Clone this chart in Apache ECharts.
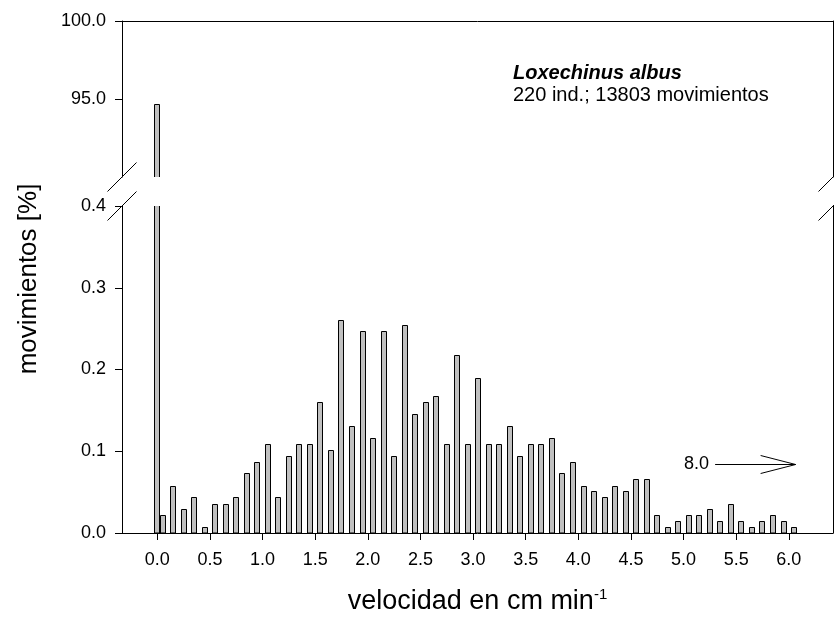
<!DOCTYPE html>
<html>
<head>
<meta charset="utf-8">
<script src="https://cdn.jsdelivr.net/npm/echarts@6/dist/echarts.min.js"></script>
<style>html,body{margin:0;padding:0;background:#fff}#c{width:834px;height:622px}</style>
</head>
<body>
<div id="c"></div>
<script>
// ---- data ----
const velocity = [0.00,0.05,0.15,0.25,0.35,0.45,0.55,0.65,0.75,0.85,0.95,
  1.05,1.15,1.25,1.35,1.45,1.55,1.65,1.75,1.85,1.95,
  2.05,2.15,2.25,2.35,2.45,2.55,2.65,2.75,2.85,2.95,
  3.05,3.15,3.25,3.35,3.45,3.55,3.65,3.75,3.85,3.95,
  4.05,4.15,4.25,4.35,4.45,4.55,4.65,4.75,4.85,4.95,
  5.05,5.15,5.25,5.35,5.45,5.55,5.65,5.75,5.85,5.95,6.05];
const percent = [94.7,0.022,0.058,0.029,0.044,0.007,0.036,0.036,0.044,0.073,0.087,
  0.109,0.044,0.094,0.109,0.109,0.160,0.101,0.260,0.131,0.247,
  0.116,0.247,0.094,0.254,0.145,0.160,0.167,0.109,0.218,0.109,
  0.189,0.109,0.109,0.131,0.094,0.109,0.109,0.116,0.073,0.087,
  0.058,0.051,0.044,0.058,0.051,0.066,0.066,0.022,0.007,0.015,
  0.022,0.022,0.029,0.015,0.036,0.015,0.007,0.015,0.022,0.015,0.007];
const xTicks = [0.0,0.5,1.0,1.5,2.0,2.5,3.0,3.5,4.0,4.5,5.0,5.5,6.0];
const lowerTicks = [0.0,0.1,0.2,0.3,0.4];
const upperTicks = [95.0,100.0];
const outlierLabel = '8.0';
const outlierArrow = [[5.30, 6.065, 0.084]]; // [x from, x to, y]
const speciesName = 'Loxechinus albus';
const sampleNote = '220 ind.; 13803 movimientos';
const xTitleMain = 'velocidad en cm min';
const xTitleSup = '-1';
const yTitle = 'movimientos [%]';

// ---- chart ----
const FONT = "'Liberation Sans', Arial, Helvetica, sans-serif";
const X_MIN = -0.335, X_MAX = 6.42;
const UP_MIN = 90, UP_MAX = 100, LO_MIN = 0, LO_MAX = 0.4;
const chart = echarts.init(document.getElementById('c'));
const barData = velocity.map((v, i) => [v, percent[i]]);

function renderBar(params, api) {
  const x = api.value(0), v = api.value(1);
  const p0 = api.coord([x, 0]);
  const p1 = api.coord([x, v]);
  const left = Math.round(p1[0] - 3) + 0.5;
  const top = Math.round(p1[1]) + 0.5;
  return {type: 'rect', shape: {x: left, y: top, width: 5, height: p0[1] - top},
    style: {fill: '#c0c0c0', stroke: '#000', lineWidth: 1}};
}
function renderArrow(params, api) {
  const a = api.coord([api.value(0), api.value(2)]);
  const b = api.coord([api.value(1), api.value(2)]);
  const y = Math.round(a[1]) + 0.5;
  return {type: 'group', children: [
    {type: 'line', shape: {x1: a[0], y1: y, x2: b[0], y2: y}, style: {stroke: '#000', lineWidth: 1}},
    {type: 'polyline', shape: {points: [[b[0] - 35, y - 9], [b[0], y], [b[0] - 35, y + 9]]},
      style: {stroke: '#000', fill: null, lineWidth: 1}},
    {type: 'text', style: {text: outlierLabel, x: a[0] - 6, y: y, align: 'right', verticalAlign: 'middle',
      fontSize: 18, fontFamily: FONT, fill: '#000'}}
  ]};
}

const lineStyle = {color: '#000', width: 1};
const labelStyle = {color: '#000', fontSize: 18, fontFamily: FONT};

const option = {
  animation: false,
  backgroundColor: '#fff',
  grid: [
    {left: 122, right: 1, top: 21, height: 156, outerBoundsMode: 'none', containLabel: false},
    {left: 122, right: 1, top: 206, bottom: 89, outerBoundsMode: 'none', containLabel: false}
  ],
  xAxis: [
    {gridIndex: 0, type: 'value', min: X_MIN, max: X_MAX, position: 'top',
      axisLine: {show: true, onZero: false, lineStyle: lineStyle}, axisTick: {show: false}, axisLabel: {show: false}, splitLine: {show: false}},
    {gridIndex: 1, type: 'value', min: X_MIN, max: X_MAX, position: 'bottom',
      axisLine: {show: true, onZero: false, lineStyle: lineStyle},
      axisTick: {show: true, customValues: xTicks, length: 7, lineStyle: lineStyle},
      axisLabel: Object.assign({customValues: xTicks, margin: 18, formatter: v => (+v).toFixed(1)}, labelStyle),
      splitLine: {show: false},
      name: '{m|' + xTitleMain + '}{s|' + xTitleSup + '}',
      nameLocation: 'middle', nameGap: 54,
      nameTextStyle: {color: '#000', fontFamily: FONT, fontSize: 27, lineHeight: 30,
        rich: {m: {fontSize: 27, fontFamily: FONT, color: '#000', lineHeight: 30},
               s: {fontSize: 15, fontFamily: FONT, color: '#000', verticalAlign: 'top', lineHeight: 15}}}}
  ],
  yAxis: [
    {gridIndex: 0, type: 'value', min: UP_MIN, max: UP_MAX, position: 'left',
      axisLine: {show: true, onZero: false, lineStyle: lineStyle},
      axisTick: {show: true, customValues: upperTicks, length: 7, lineStyle: lineStyle},
      axisLabel: Object.assign({customValues: upperTicks, margin: 16, formatter: v => (+v).toFixed(1)}, labelStyle),
      splitLine: {show: false}},
    {gridIndex: 0, type: 'value', min: UP_MIN, max: UP_MAX, position: 'right',
      axisLine: {show: true, onZero: false, lineStyle: lineStyle}, axisTick: {show: false}, axisLabel: {show: false}, splitLine: {show: false}},
    {gridIndex: 1, type: 'value', min: LO_MIN, max: LO_MAX, position: 'left',
      axisLine: {show: true, onZero: false, lineStyle: lineStyle},
      axisTick: {show: true, customValues: lowerTicks, length: 7, lineStyle: lineStyle},
      axisLabel: Object.assign({customValues: lowerTicks, margin: 16, formatter: v => (+v).toFixed(1)}, labelStyle),
      splitLine: {show: false}},
    {gridIndex: 1, type: 'value', min: LO_MIN, max: LO_MAX, position: 'right',
      axisLine: {show: true, onZero: false, lineStyle: lineStyle}, axisTick: {show: false}, axisLabel: {show: false}, splitLine: {show: false}}
  ],
  series: [
    {type: 'custom', name: 'upper', xAxisIndex: 0, yAxisIndex: 0, data: barData, encode: {x: 0, y: 1},
      clip: true, renderItem: renderBar, silent: true},
    {type: 'custom', name: 'lower', xAxisIndex: 1, yAxisIndex: 2, data: barData, encode: {x: 0, y: 1},
      clip: true, renderItem: renderBar, silent: true},
    {type: 'custom', name: 'outlier', xAxisIndex: 1, yAxisIndex: 2, data: outlierArrow, encode: {x: [0, 1], y: 2},
      clip: false, renderItem: renderArrow, silent: true}
  ]
};
chart.setOption(option);

// break marks and texts, anchored on the axes
const upBL = chart.convertToPixel({xAxisIndex: 0, yAxisIndex: 0}, [X_MIN, UP_MIN]);
const upBR = chart.convertToPixel({xAxisIndex: 0, yAxisIndex: 0}, [X_MAX, UP_MIN]);
const upTL = chart.convertToPixel({xAxisIndex: 0, yAxisIndex: 0}, [X_MIN, UP_MAX]);
const loTL = chart.convertToPixel({xAxisIndex: 1, yAxisIndex: 2}, [X_MIN, LO_MAX]);
const loTR = chart.convertToPixel({xAxisIndex: 1, yAxisIndex: 2}, [X_MAX, LO_MAX]);
const loBot = chart.convertToPixel({xAxisIndex: 1, yAxisIndex: 2}, [X_MIN, LO_MIN]);
const d = 14.5;
function slash(p) {
  return {type: 'line', shape: {x1: p[0] - d, y1: p[1] + d, x2: p[0] + d, y2: p[1] - d},
    style: {stroke: '#000', lineWidth: 1}, z: 100};
}
chart.setOption({graphic: [
  slash(upBL), slash(upBR), slash(loTL), slash(loTR),
  {type: 'text', left: 513, top: 63, style: {text: speciesName, fontSize: 20, fontWeight: 'bold', fontStyle: 'italic',
    fontFamily: FONT, fill: '#000'}},
  {type: 'text', left: 513, top: 85, style: {text: sampleNote, fontSize: 20, fontFamily: FONT, fill: '#000'}},
  {type: 'text', x: 29, y: (upTL[1] + loBot[1]) / 2 + 2, rotation: Math.PI / 2,
    style: {text: yTitle, fontSize: 26, fontFamily: FONT, fill: '#000', align: 'center', verticalAlign: 'middle'}}
]});
</script>
</body>
</html>
